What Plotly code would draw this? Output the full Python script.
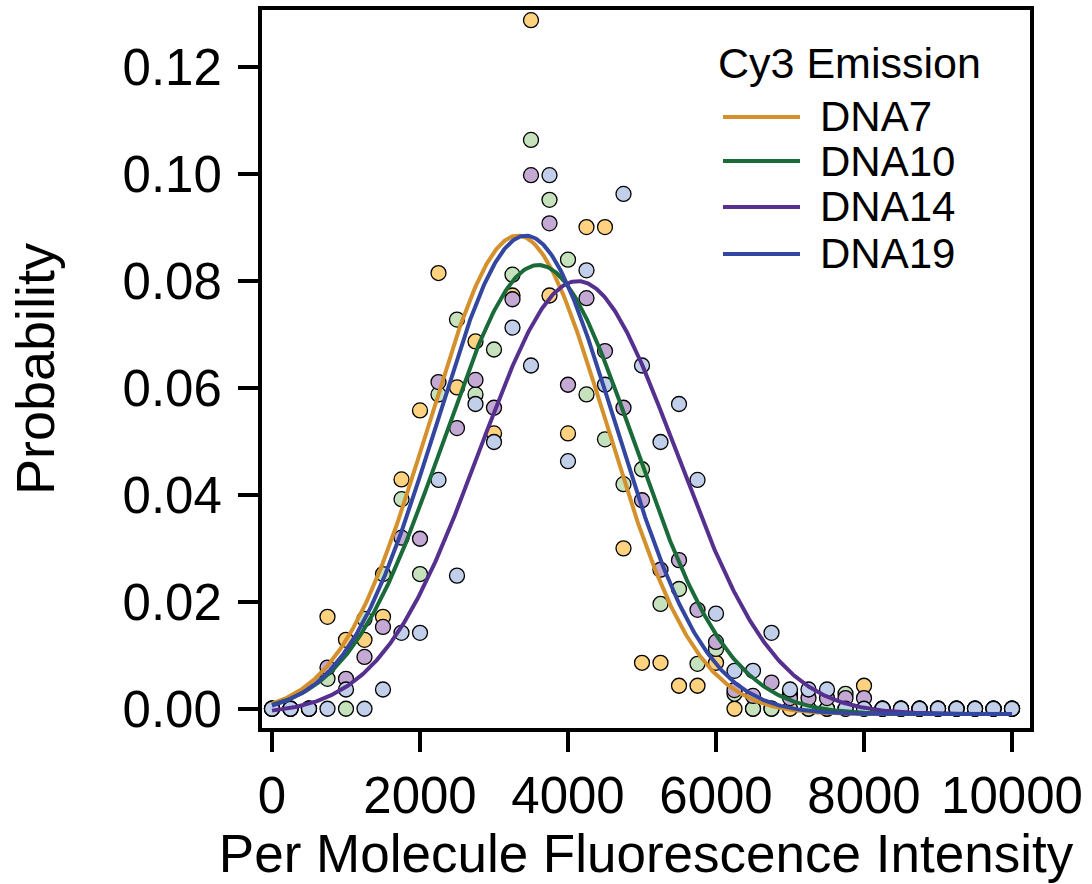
import numpy as np
import plotly.graph_objects as go

# ---- data ----
intensity_bins = [0, 250, 500, 750, 1000, 1250, 1500, 1750, 2000, 2250, 2500, 2750,
                  3000, 3250, 3500, 3750, 4000, 4250, 4500, 4750, 5000, 5250, 5500,
                  5750, 6000, 6250, 6500, 6750, 7000, 7250, 7500, 7750, 8000, 8250,
                  8500, 8750, 9000, 9250, 9500, 9750, 10000]

dna7 = [0, 0, 0, 0.0172, 0.0129, 0.0129, 0.0172, 0.0429, 0.0558, 0.0815, 0.0601, 0.0687,
        0.0515, 0.0773, 0.1288, 0.0773, 0.0515, 0.0901, 0.0901, 0.0300, 0.0086, 0.0086,
        0.0043, 0.0043, 0.0086, 0, 0, 0, 0, 0, 0, 0, 0.0043, 0, 0, 0, 0, 0, 0, 0, 0]
dna10 = [0, 0, 0, 0.0056, 0, 0.0168, 0.0252, 0.0392, 0.0252, 0.0588, 0.0728, 0.0588,
         0.0672, 0.0812, 0.1064, 0.0952, 0.0840, 0.0588, 0.0504, 0.0420, 0.0448, 0.0196,
         0.0224, 0.0084, 0.0112, 0.0028, 0, 0, 0.0028, 0, 0, 0.0028, 0, 0, 0, 0, 0, 0, 0, 0, 0]
dna14 = [0, 0, 0, 0.0077, 0.0056, 0.0097, 0.0153, 0.0320, 0.0318, 0.0611, 0.0525, 0.0615,
         0.0563, 0.0766, 0.0998, 0.0908, 0.0606, 0.0768, 0.0669, 0.0563, 0.0390, 0.0260,
         0.0278, 0.0185, 0.0125, 0.0035, 0.0024, 0.0049, 0.0020, 0.0020, 0.0020, 0.0020,
         0.0020, 0, 0, 0, 0, 0, 0, 0, 0]
dna19 = [0, 0, 0, 0, 0.0036, 0, 0.0036, 0.0142, 0.0142, 0.0428, 0.0249, 0.0570,
         0.0499, 0.0713, 0.0642, 0.0998, 0.0463, 0.0820, 0.0606, 0.0963, 0.0642, 0.0499,
         0.0570, 0.0428, 0.0178, 0.0071, 0.0071, 0.0142, 0.0036, 0.0036, 0.0036, 0, 0,
         0, 0, 0, 0, 0, 0, 0, 0]

series_names = ["DNA7", "DNA10", "DNA14", "DNA19"]
series_values = [dna7, dna10, dna14, dna19]

# Gaussian fit parameters
fit_center = [3320, 3600, 4130, 3430]
fit_sigma = [1200, 1290, 1330, 1210]
fit_amplitude = [0.0895, 0.0840, 0.0810, 0.0895]
fit_offset = [-0.001, -0.001, -0.001, -0.001]

y_ticks = [0, 0.02, 0.04, 0.06, 0.08, 0.10, 0.12]
x_ticks = [0, 2000, 4000, 6000, 8000, 10000]
x_tick_labels = ["0", "2000", "4000", "6000", "8000", "10000"]

# ---- styles ----
line_colors = ["#D4902C", "#1B6B3A", "#56308F", "#3447A0"]
fill_colors = ["#FED27F", "#C6E2BD", "#C3A9D3", "#C1CFEA"]
FONT = "Liberation Sans, Arial, Helvetica, sans-serif"

fig = go.Figure()

for name, vals, fc in zip(series_names, series_values, fill_colors):
    fig.add_trace(go.Scatter(
        x=intensity_bins, y=vals, mode="markers", showlegend=False,
        marker=dict(size=15, color=fc, line=dict(color="black", width=1.3)),
        name=name))

xfit = np.linspace(0, 10000, 600)
for name, mu, s, a, c, lc in zip(series_names, fit_center, fit_sigma, fit_amplitude,
                                 fit_offset, line_colors):
    yfit = a * np.exp(-(xfit - mu) ** 2 / (2 * s ** 2)) + c
    fig.add_trace(go.Scatter(x=xfit, y=yfit, mode="lines", showlegend=False,
                             line=dict(color=lc, width=4), name=name))

# ---- manual legend ----
L, R, T, B = 262, 1030, 10, 728
W, H = R - L, B - T
def px(x):
    return (x - L) / W
def py(y):
    return (B - y) / H

fig.add_annotation(x=px(716), y=py(63), xref="paper", yref="paper", text="Cy3 Emission",
                   showarrow=False, xanchor="left", yanchor="middle",
                   font=dict(size=43, color="black", family=FONT))
row_y = [117, 161, 207, 254]
for name, lc, ry in zip(series_names, line_colors, row_y):
    fig.add_shape(type="line", xref="paper", yref="paper", x0=px(723), x1=px(800),
                  y0=py(ry), y1=py(ry), line=dict(color=lc, width=4))
    fig.add_annotation(x=px(818), y=py(ry), xref="paper", yref="paper", text=name,
                       showarrow=False, xanchor="left", yanchor="middle",
                       font=dict(size=42, color="black", family=FONT))

fig.update_layout(
    width=1092, height=884,
    margin=dict(l=L, r=1092 - R, t=T, b=884 - B, autoexpand=False),
    paper_bgcolor="white", plot_bgcolor="white",
    font=dict(family=FONT, color="black"),
    xaxis=dict(range=[-135, 10243], tickvals=x_ticks, ticktext=x_tick_labels,
               ticks="outside", ticklen=20, tickwidth=4, tickcolor="black",
               showline=True, linewidth=4, linecolor="black", mirror=True,
               showgrid=False, zeroline=False,
               tickfont=dict(size=51, family=FONT),
               title=dict(text="Per Molecule Fluorescence Intensity",
                          font=dict(size=53, family=FONT), standoff=2)),
    yaxis=dict(range=[-0.0036, 0.1307], tickvals=y_ticks, tickformat=".2f",
               ticks="outside", ticklen=20, tickwidth=4, tickcolor="black",
               showline=True, linewidth=4, linecolor="black", mirror=True,
               showgrid=False, zeroline=False, ticklabelstandoff=6,
               tickfont=dict(size=51, family=FONT),
               title=dict(text="Probability", font=dict(size=54, family=FONT),
                          standoff=52)),
)

fig.write_html("out.html")
